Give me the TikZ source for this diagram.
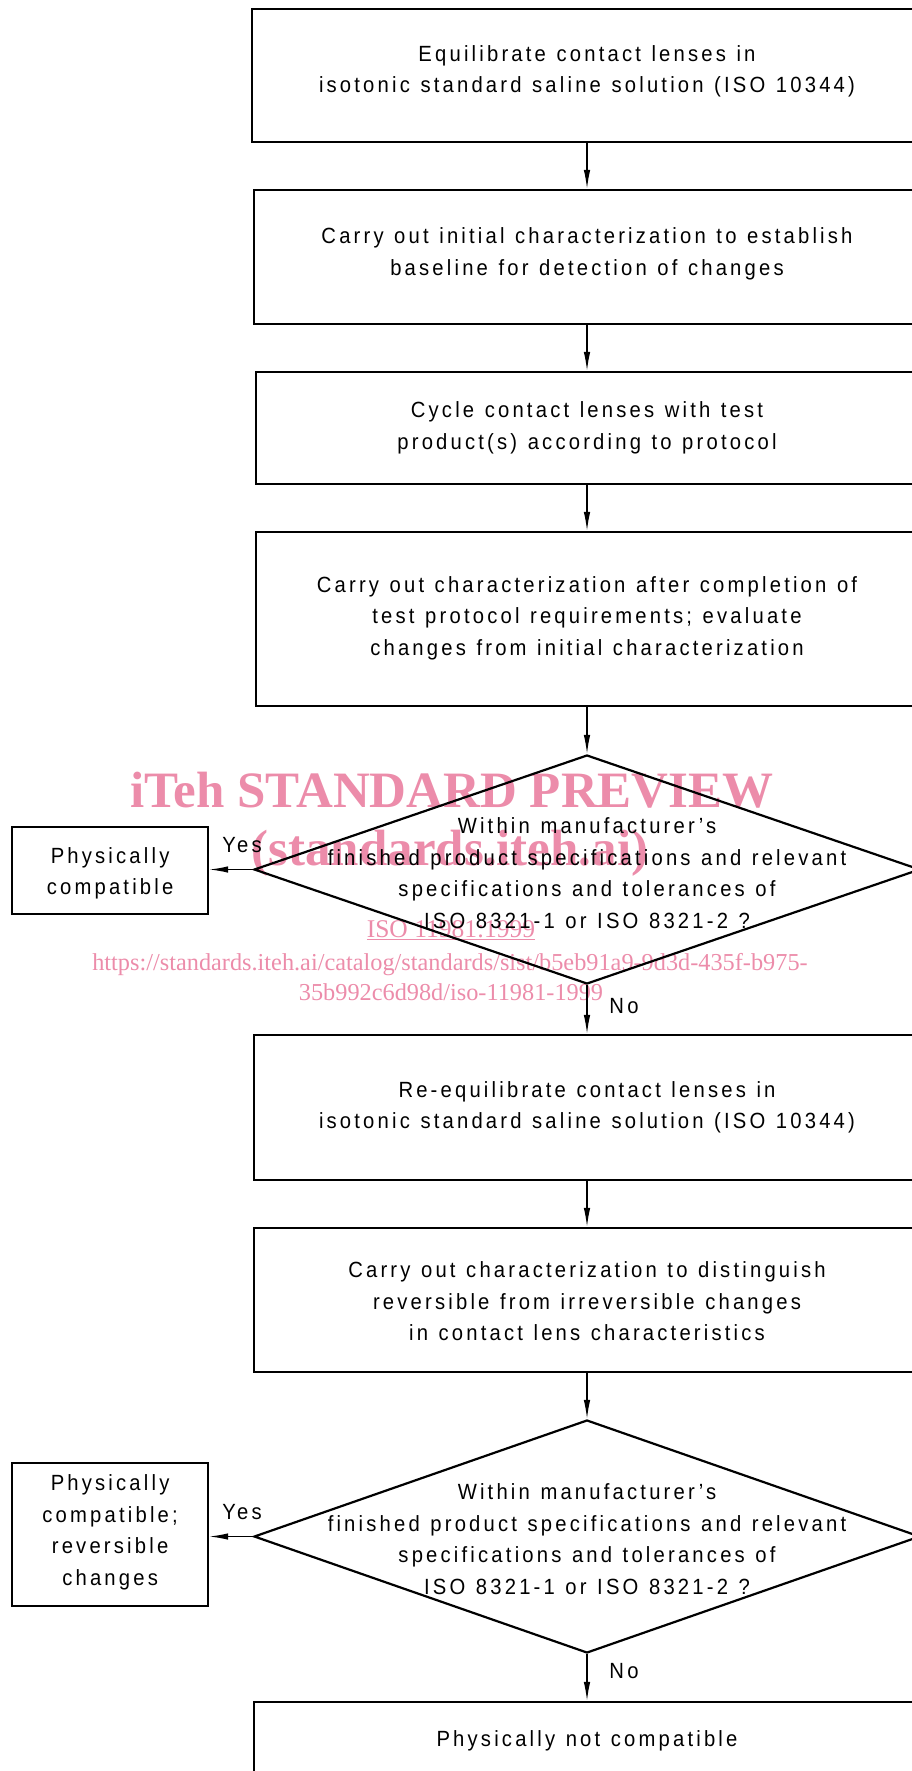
\documentclass[tikz,border=0pt]{standalone}
\usepackage{fontspec}
\setmainfont{Liberation Sans}[FakeStretch=0.92, LetterSpace=14.5, WordSpace=1.2]
\newfontfamily\markfont{Liberation Serif}
\usetikzlibrary{shapes.geometric, arrows.meta}
\definecolor{markpink}{RGB}{236,140,170}

\tikzset{
  flowtext/.style={font=\fontsize{22}{31.5}\selectfont, align=center, inner sep=0pt},
  stepbox/.style={draw, line width=2.2pt, rectangle, inner sep=0pt},
  decision/.style={draw, line width=2.2pt, diamond, inner sep=0pt},
  resultbox/.style={draw, line width=2.2pt, rectangle, inner sep=0pt,
    minimum width=196, anchor=west},
  flow/.style={line width=1.3pt, -{Latex[length=19pt, width=6.5pt]}},
  answer/.style={font=\fontsize{22}{22}\selectfont, anchor=base},
  wmtext/.style={text=markpink, inner sep=0pt, anchor=base},
}

\begin{document}
\begin{tikzpicture}[x=1pt, y=-1pt]
\useasboundingbox (0,0) rectangle (912,1771);

% watermark, set behind the chart
\node[wmtext, font=\markfont\bfseries\fontsize{51}{51}\selectfont] (wmA) at (452,807) {iTeh STANDARD PREVIEW};
\node[wmtext, font=\markfont\bfseries\fontsize{51}{51}\selectfont] (wmB) at (450,865) {(standards.iteh.ai)};
\node[wmtext, font=\markfont\fontsize{25.5}{25.5}\selectfont] (wmC) at (451,937) {\underline{ISO 11981:1999}};
\node[wmtext, font=\markfont\fontsize{24.3}{24.3}\selectfont] (wmD) at (450,970) {https://standards.iteh.ai/catalog/standards/sist/b5eb91a9-9d3d-435f-b975-};
\node[wmtext, font=\markfont\fontsize{24.3}{24.3}\selectfont] (wmE) at (451,1000) {35b992c6d98d/iso-11981-1999};

% process steps: frames
\node[stepbox, minimum width=670, minimum height=133] (s1) at (587,75.5) {};
\node[stepbox, minimum width=668, minimum height=134] (s2) at (588,257) {};
\node[stepbox, minimum width=666, minimum height=112] (s3) at (589,428) {};
\node[stepbox, minimum width=666, minimum height=174] (s4) at (589,619) {};
\node[decision, minimum width=666, minimum height=229] (d1) at (587,869.5) {};
\node[resultbox, minimum height=87] (r1) at (11,870.5) {};
\node[stepbox, minimum width=668, minimum height=145] (s5) at (588,1107.5) {};
\node[stepbox, minimum width=668, minimum height=144] (s6) at (588,1300) {};
\node[decision, minimum width=666, minimum height=233] (d2) at (587,1536.5) {};
\node[resultbox, minimum height=143] (r2) at (11,1534.5) {};
\node[stepbox, minimum width=668, minimum height=80] (s7) at (588,1742) {};

% texts of the frames
\node[flowtext, yshift=4pt] (s1t) at (587,75.5)
  {Equilibrate contact lenses in\\isotonic standard saline solution (ISO 10344)};
\node[flowtext, yshift=3.4pt] (s2t) at (587,257)
  {Carry out initial characterization to establish\\baseline for detection of changes};
\node[flowtext] (s3t) at (587,428)
  {Cycle contact lenses with test\\product(s) according to protocol};
\node[flowtext, yshift=1pt] (s4t) at (587,619)
  {Carry out characterization after completion of\\test protocol requirements; evaluate\\changes from initial characterization};
\node[flowtext, yshift=-3.8pt] (d1t) at (d1.center)
  {Within manufacturer's\\finished product specifications and relevant\\specifications and tolerances of\\ISO 8321-1 or ISO 8321-2 ?};
\node[flowtext, yshift=-3pt] (r1t) at (r1.center) {Physically\\compatible};
\node[flowtext] (s5t) at (587,1107.5)
  {Re-equilibrate contact lenses in\\isotonic standard saline solution (ISO 10344)};
\node[flowtext, yshift=-1.5pt] (s6t) at (587,1300)
  {Carry out characterization to distinguish\\reversible from irreversible changes\\in contact lens characteristics};
\node[flowtext, yshift=-2.5pt] (d2t) at (d2.center)
  {Within manufacturer's\\finished product specifications and relevant\\specifications and tolerances of\\ISO 8321-1 or ISO 8321-2 ?};
\node[flowtext, yshift=2pt] (r2t) at (r2.center) {Physically\\compatible;\\reversible\\changes};
\node[flowtext, yshift=1pt] (s7t) at (587,1742) {Physically not compatible};

% connectors
\draw[flow] (s1.south -| 587,0) -- (s2.north -| 587,0);
\draw[flow] (s2.south -| 587,0) -- (s3.north -| 587,0);
\draw[flow] (s3.south -| 587,0) -- (s4.north -| 587,0);
\draw[flow] (s4.south -| d1.north) -- (d1.north);
\draw[flow] (d1.west) -- (d1.west -| r1.east);
\draw[flow] (d1.south) -- (d1.south |- s5.north);
\draw[flow] (s5.south -| 587,0) -- (s6.north -| 587,0);
\draw[flow] (s6.south -| d2.north) -- (d2.north);
\draw[flow] (d2.west) -- (d2.west -| r2.east);
\draw[flow] (d2.south) -- (d2.south |- s7.north);

% answer labels
\node[answer] (y1) at (242,852) {Yes};
\node[answer] (n1) at (624,1013) {No};
\node[answer] (y2) at (242,1519) {Yes};
\node[answer] (n2) at (624,1678) {No};
\end{tikzpicture}
\end{document}
